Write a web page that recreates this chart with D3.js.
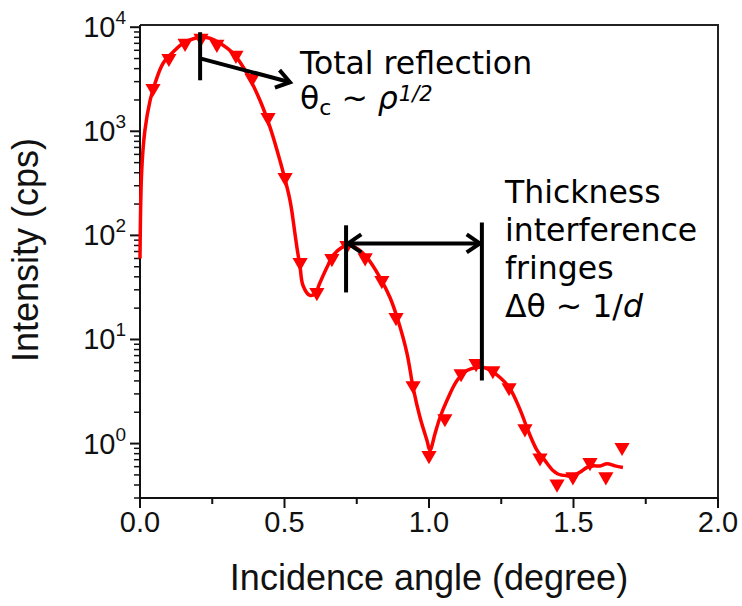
<!DOCTYPE html>
<html>
<head>
<meta charset="utf-8">
<script src="https://cdn.jsdelivr.net/npm/d3@7"></script>
<style>
  body { margin: 0; background: #fff; }
  svg { display: block; }
</style>
</head>
<body>
<div id="chart"></div>
<script>
// fitted curve (angle in degree, intensity in cps)
const curveAngle = [0.000, 0.006, 0.017, 0.035, 0.052, 0.080, 0.114, 0.149, 0.190, 0.215, 0.242, 0.277,
  0.322, 0.370, 0.415, 0.450, 0.484, 0.519, 0.536, 0.543, 0.554, 0.564, 0.588, 0.606, 0.623, 0.647,
  0.668, 0.699, 0.720, 0.751, 0.785, 0.830, 0.865, 0.893, 0.924, 0.945, 0.969, 0.993, 1.003, 1.021,
  1.038, 1.062, 1.097, 1.131, 1.166, 1.201, 1.246, 1.280, 1.315, 1.343, 1.374, 1.401, 1.429, 1.446,
  1.478, 1.498, 1.522, 1.547, 1.567, 1.592, 1.616, 1.644, 1.671];
const curveCps = [60, 422, 1023, 1986, 2895, 4505, 5750, 7020, 7840, 8020, 7840, 7020,
  5620, 3610, 1986, 1092, 526, 217, 105, 76.7, 49.3, 33.0, 26.5, 27.7, 35.3, 49.3,
  64.2, 76.7, 80.2, 75, 61.4, 39.5, 25.3, 15.2, 7.33, 3.45, 1.78, 1.07, 0.86, 1.25,
  1.78, 2.59, 4.03, 5.03, 5.38, 5.26, 4.31, 3.38, 2.12, 1.33, 0.86, 0.69, 0.55, 0.51,
  0.49, 0.49, 0.53, 0.59, 0.61, 0.61, 0.64, 0.61, 0.59];

// measured points
const measAngle = [0.045, 0.100, 0.156, 0.211, 0.266, 0.332, 0.388, 0.443, 0.502, 0.554, 0.612, 0.664,
  0.716, 0.779, 0.837, 0.886, 0.945, 1.000, 1.055, 1.111, 1.163, 1.221, 1.277, 1.332, 1.384, 1.443,
  1.498, 1.557, 1.612, 1.668];
const measCps = [2590, 5030, 7020, 7840, 6870, 5380, 3230, 1360, 361, 55, 28.3, 60,
  80, 61, 36.9, 16.3, 3.61, 0.77, 1.74, 4.71, 5.88, 5.03, 3.45, 1.39, 0.73, 0.41,
  0.48, 0.66, 0.48, 0.92];

const xTicks = [0, 0.5, 1.0, 1.5, 2.0];
const xMinorTicks = [0.25, 0.75, 1.25, 1.75];
const yTicks = [1, 10, 100, 1000, 10000];
const yTickExp = ["0", "1", "2", "3", "4"];

const width = 742, height = 606;
const margin = { top: 25, right: 24, bottom: 108, left: 140 };

const svg = d3.select('#chart')
  .append('svg')
    .attr('width', width)
    .attr('height', height);

const x = d3.scaleLinear()
  .domain([0, 2])
  .range([margin.left, width - margin.right]);

const y = d3.scaleLog()
  .domain([0.3, 10500])
  .range([height - margin.bottom, margin.top]);

const x0 = x.range()[0], x1 = x.range()[1];
const y0 = y.range()[0], y1 = y.range()[1];

// frame: top and right
svg.append('path')
  .attr('d', `M${x0},${y1}H${x1}V${y0}`)
  .attr('fill', 'none')
  .attr('stroke', '#222')
  .attr('stroke-width', 2);

// x axis
const xAxis = svg.append('g');
xAxis.append('line')
  .attr('x1', x0).attr('x2', x1).attr('y1', y0).attr('y2', y0)
  .attr('stroke', '#111').attr('stroke-width', 2);
xAxis.selectAll('.maj').data(xTicks).enter().append('line')
  .attr('x1', d => x(d)).attr('x2', d => x(d))
  .attr('y1', y0).attr('y2', y0 + 10)
  .attr('stroke', '#111').attr('stroke-width', 2);
xAxis.selectAll('.min').data(xMinorTicks).enter().append('line')
  .attr('x1', d => x(d)).attr('x2', d => x(d))
  .attr('y1', y0).attr('y2', y0 + 6)
  .attr('stroke', '#111').attr('stroke-width', 2);
xAxis.selectAll('text').data(xTicks).enter().append('text')
  .attr('x', d => x(d))
  .attr('y', y0 + 34)
  .attr('text-anchor', 'middle')
  .style('font', '29px "Liberation Sans", Arial, sans-serif')
  .attr('fill', '#111')
  .text(d => d.toFixed(1));

// y axis
const yMinor = [];
yTicks.forEach(t => {
  for (let k = 2; k <= 9; k++) {
    const v = t * k;
    if (v < y.domain()[1]) yMinor.push(v);
  }
  for (let k = 3; k <= 9; k++) {
    const v = t * k / 10;
    if (t === 1 && v >= y.domain()[0]) yMinor.push(v);
  }
});
const yAxis = svg.append('g');
yAxis.append('line')
  .attr('x1', x0).attr('x2', x0).attr('y1', y0).attr('y2', y1)
  .attr('stroke', '#111').attr('stroke-width', 2);
yAxis.selectAll('.maj').data(yTicks).enter().append('line')
  .attr('x1', x0 - 10).attr('x2', x0)
  .attr('y1', d => y(d)).attr('y2', d => y(d))
  .attr('stroke', '#111').attr('stroke-width', 2);
yAxis.selectAll('.min').data(yMinor).enter().append('line')
  .attr('x1', x0 - 6).attr('x2', x0)
  .attr('y1', d => y(d)).attr('y2', d => y(d))
  .attr('stroke', '#111').attr('stroke-width', 1.5);
const yLab = yAxis.selectAll('text').data(yTicks).enter().append('text')
  .attr('x', x0 - 14)
  .attr('y', d => y(d) + 10)
  .attr('text-anchor', 'end')
  .style('font', '29px "Liberation Sans", Arial, sans-serif')
  .attr('fill', '#111');
yLab.append('tspan').text('10');
yLab.append('tspan')
  .attr('dy', -13)
  .style('font-size', '19px')
  .text((d, i) => yTickExp[i]);

// axis titles
svg.append('text')
  .attr('x', (x0 + x1) / 2)
  .attr('y', 590)
  .attr('text-anchor', 'middle')
  .style('font', '36px "Liberation Sans", Arial, sans-serif')
  .attr('fill', '#111')
  .text('Incidence angle (degree)');

svg.append('text')
  .attr('transform', 'translate(38,' + 250 + ') rotate(-90)')
  .attr('text-anchor', 'middle')
  .style('font', '36px "Liberation Sans", Arial, sans-serif')
  .attr('fill', '#111')
  .text('Intensity (cps)');

// fitted line
const line = d3.line()
  .x(d => x(d[0]))
  .y(d => y(d[1]))
  .curve(d3.curveCatmullRom.alpha(0.5));

svg.append('path')
  .datum(d3.zip(curveAngle, curveCps))
  .attr('d', line)
  .attr('fill', 'none')
  .attr('stroke', '#ff0000')
  .attr('stroke-width', 3.5)
  .attr('stroke-linejoin', 'round');

// measured markers (down triangles)
const tri = d3.symbol().type(d3.symbolTriangle).size(100);
svg.selectAll('.pt')
  .data(d3.zip(measAngle, measCps))
  .enter().append('path')
  .attr('class', 'pt')
  .attr('d', tri)
  .attr('transform', d => `translate(${x(d[0])},${y(d[1])}) rotate(180)`)
  .attr('fill', '#ff0000');

// annotations
function chevron(tipX, tipY, fromX, fromY) {
  const a = Math.atan2(fromY - tipY, fromX - tipX);
  const L = 16, s = 0.6;
  return `M${tipX + L * Math.cos(a + s)},${tipY + L * Math.sin(a + s)}L${tipX},${tipY}L${tipX + L * Math.cos(a - s)},${tipY + L * Math.sin(a - s)}`;
}
const ann = svg.append('g')
  .attr('stroke', '#000')
  .attr('stroke-width', 4)
  .attr('fill', 'none')
  .attr('stroke-linecap', 'butt');

// critical angle marker and arrow
const tc = 0.208;
ann.append('line')
  .attr('x1', x(tc)).attr('x2', x(tc))
  .attr('y1', y(8950)).attr('y2', y(3090));
const a1 = [x(tc), y(5020)], a2 = [x(0.519), y(2960)];
ann.append('line')
  .attr('x1', a1[0]).attr('y1', a1[1]).attr('x2', a2[0]).attr('y2', a2[1]);
ann.append('path').attr('d', chevron(a2[0], a2[1], a1[0], a1[1]));

// fringe period
const f1 = 0.713, f2 = 1.183;
ann.append('line')
  .attr('x1', x(f1)).attr('x2', x(f1))
  .attr('y1', y(125)).attr('y2', y(28.3));
ann.append('line')
  .attr('x1', x(f2)).attr('x2', x(f2))
  .attr('y1', y(133)).attr('y2', y(4.03));
const hy = y(83.8);
ann.append('line')
  .attr('x1', x(f1) + 2).attr('x2', x(f2) - 2)
  .attr('y1', hy).attr('y2', hy);
ann.append('path').attr('d', chevron(x(f1) + 2, hy, x(f2), hy));
ann.append('path').attr('d', chevron(x(f2) - 2, hy, x(f1), hy));

// annotation text
const annFont = '31.5px "DejaVu Sans", Verdana, sans-serif';
svg.append('text')
  .attr('x', 300).attr('y', 74)
  .style('font', annFont)
  .text('Total reflection');
const t2 = svg.append('text')
  .attr('x', 300).attr('y', 109)
  .style('font', annFont);
t2.append('tspan').text('θ');
t2.append('tspan').attr('dy', 6).style('font-size', '22px').text('c');
t2.append('tspan').attr('dy', -6).text(' ~ ');
t2.append('tspan').style('font-style', 'italic').text('ρ');
t2.append('tspan').attr('dy', -8).attr('dx', 1).style('font-size', '21px').style('font-style', 'italic').text('1/2');

const fringeLines = ['Thickness', 'interference', 'fringes'];
svg.selectAll('.fr').data(fringeLines).enter().append('text')
  .attr('x', 505)
  .attr('y', (d, i) => 203 + i * 38)
  .style('font', annFont)
  .text(d => d);
const t3 = svg.append('text')
  .attr('x', 505).attr('y', 317)
  .style('font', annFont);
t3.append('tspan').text('Δθ ~ 1/');
t3.append('tspan').style('font-style', 'italic').text('d');
</script>
</body>
</html>
